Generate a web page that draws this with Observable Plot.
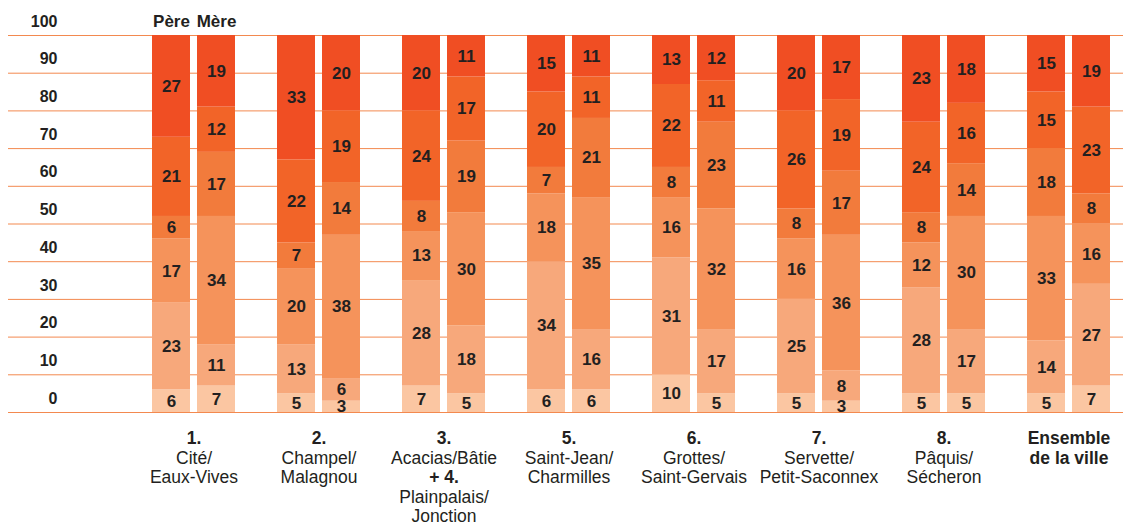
<!DOCTYPE html>
<html>
<head>
<meta charset="utf-8">
<script src="https://cdn.jsdelivr.net/npm/d3@7"></script>
<script src="https://cdn.jsdelivr.net/npm/@observablehq/plot@0.6"></script>
<style>
  html, body { margin: 0; padding: 0; background: #fff; }
  #chart svg { display: block; }
</style>
</head>
<body>
<div id="chart"></div>
<script>
// Districts (x groups)
const groups = ["1", "2", "3+4", "5", "6", "7", "8", "ville"];

// Six categories, stacked from bottom to top
const categories = ["c1", "c2", "c3", "c4", "c5", "c6"];
const categoryColors = ["#fbc6a2", "#f7a87b", "#f5935b", "#f27b3c", "#f26428", "#f04e23"];

// Percent shares per district, bottom to top
const pereValues = [
  [6, 23, 17, 6, 21, 27],
  [5, 13, 20, 7, 22, 33],
  [7, 28, 13, 8, 24, 20],
  [6, 34, 18, 7, 20, 15],
  [10, 31, 16, 8, 22, 13],
  [5, 25, 16, 8, 26, 20],
  [5, 28, 12, 8, 24, 23],
  [5, 14, 33, 18, 15, 15]
];
const mereValues = [
  [7, 11, 34, 17, 12, 19],
  [3, 6, 38, 14, 19, 20],
  [5, 18, 30, 19, 17, 11],
  [6, 16, 35, 21, 11, 11],
  [5, 17, 32, 23, 11, 12],
  [3, 8, 36, 17, 19, 17],
  [5, 17, 30, 14, 16, 18],
  [7, 27, 16, 8, 23, 19]
];

// Y tick labels
const yTicks = [0, 10, 20, 30, 40, 50, 60, 70, 80, 90, 100];

// Bar headings
const parents = ["Père", "Mère"];

// District labels: [text, bold]
const groupLabels = [
  [["1.", true], ["Cité/", false], ["Eaux-Vives", false]],
  [["2.", true], ["Champel/", false], ["Malagnou", false]],
  [["3.", true], ["Acacias/Bâtie", false], ["+ 4.", true], ["Plainpalais/", false], ["Jonction", false]],
  [["5.", true], ["Saint-Jean/", false], ["Charmilles", false]],
  [["6.", true], ["Grottes/", false], ["Saint-Gervais", false]],
  [["7.", true], ["Servette/", false], ["Petit-Saconnex", false]],
  [["8.", true], ["Pâquis/", false], ["Sécheron", false]],
  [["Ensemble", true], ["de la ville", true]]
];

function rowsFor(parent, table) {
  const rows = [];
  groups.forEach((g, i) => {
    categories.forEach((c, j) => {
      rows.push({group: g, parent, cat: c, value: table[i][j]});
    });
  });
  return rows;
}
const pere = rowsFor("Père", pereValues);
const mere = rowsFor("Mère", mereValues);

const labelLines = [];
groupLabels.forEach((lines, i) => {
  lines.forEach(([text, bold], row) => labelLines.push({group: groups[i], text, bold, row}));
});

const ink = "#231f20";
const font = "'Liberation Sans', Arial, Helvetica, sans-serif";
const half = 22.5;   // offset from group centre to each bar centre
const lineStep = 19.5;

const marks = [
  Plot.ruleY(yTicks, {stroke: "#f3894f", strokeWidth: 1}),
  Plot.barY(pere, {x: "group", y: "value", fill: "cat", insetLeft: 21, insetRight: 66}),
  Plot.barY(mere, {x: "group", y: "value", fill: "cat", insetLeft: 66, insetRight: 21}),
  Plot.text(pere, Plot.stackY({x: "group", y: "value", text: "value", dx: -half,
    fill: ink, fontWeight: "bold", fontSize: 17})),
  Plot.text(mere, Plot.stackY({x: "group", y: "value", text: "value", dx: half,
    fill: ink, fontWeight: "bold", fontSize: 17})),
  Plot.text(yTicks, {y: d => d, text: d => String(d), frameAnchor: "left", textAnchor: "end",
    dx: 49, dy: -14, fill: ink, fontWeight: "bold", fontSize: 16}),
  Plot.text([parents[0]], {x: () => groups[0], text: d => d, frameAnchor: "top", lineAnchor: "middle",
    dx: -half, dy: -14, fill: ink, fontWeight: "bold", fontSize: 17}),
  Plot.text([parents[1]], {x: () => groups[0], text: d => d, frameAnchor: "top", lineAnchor: "middle",
    dx: half, dy: -14, fill: ink, fontWeight: "bold", fontSize: 17})
];

const maxRows = d3.max(labelLines, d => d.row) + 1;
for (let r = 0; r < maxRows; r++) {
  for (const bold of [true, false]) {
    const subset = labelLines.filter(d => d.row === r && d.bold === bold);
    if (!subset.length) continue;
    marks.push(Plot.text(subset, {x: "group", text: "text", frameAnchor: "bottom", lineAnchor: "middle",
      dy: 26 + lineStep * r, fill: ink, fontWeight: bold ? "bold" : "normal", fontSize: 17.5}));
  }
}

const chart = Plot.plot({
  width: 1123,
  height: 526,
  marginTop: 35,
  marginBottom: 114,
  marginLeft: 8,
  marginRight: 0,
  style: {fontFamily: font, background: "#fff", overflow: "visible"},
  x: {type: "band", domain: groups, range: [131, 1131], padding: 0, axis: null},
  y: {domain: [0, 100], axis: null},
  color: {domain: categories, range: categoryColors},
  marks
});
document.getElementById("chart").appendChild(chart);
</script>
</body>
</html>
